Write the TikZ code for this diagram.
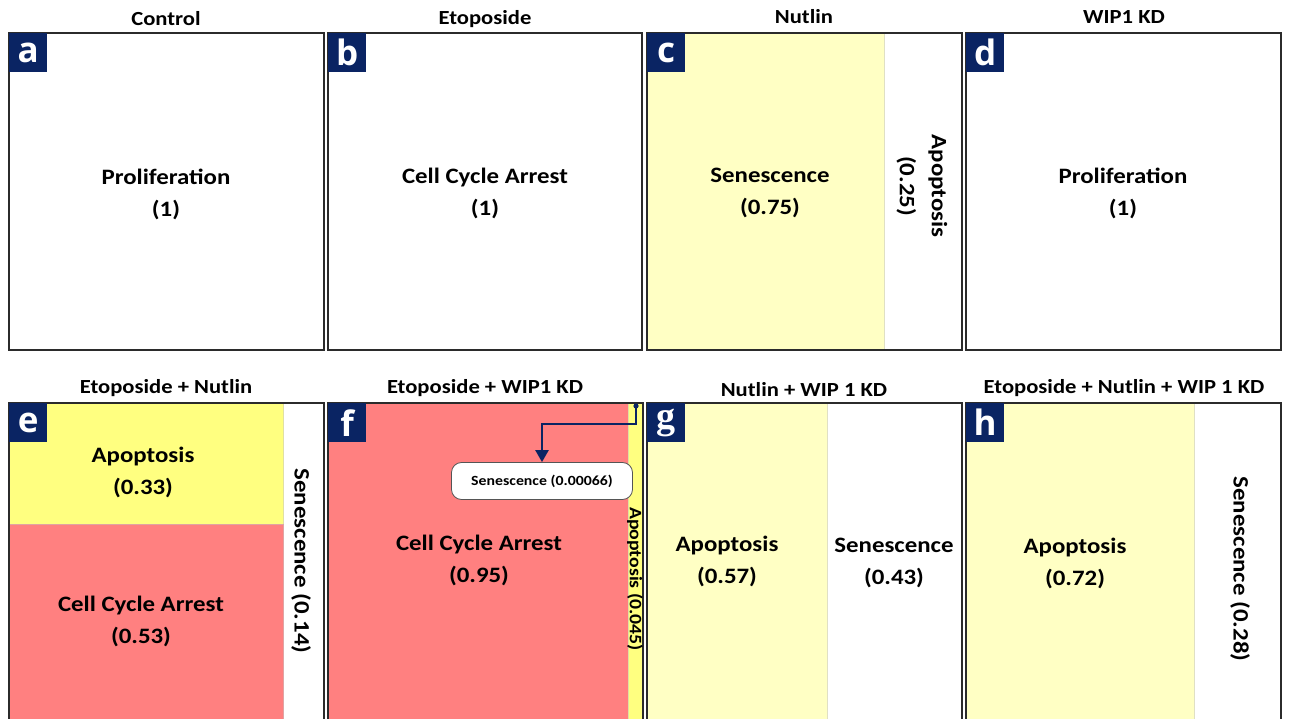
\documentclass[tikz,border=0pt]{standalone}
\usepackage{fontspec}
\setmainfont{Carlito}[FakeStretch=1.13]
\newfontfamily\tagfont{Open Sans}
\newfontfamily\tagserif{Liberation Serif}
\usetikzlibrary{arrows.meta}
\definecolor{navy}{HTML}{0A2463}
\definecolor{paleyel}{HTML}{FFFFC4}
\definecolor{yel}{HTML}{FFFF80}
\definecolor{salmon}{HTML}{FF8080}
\definecolor{edge}{HTML}{2B2B2B}

\begin{document}
\begin{tikzpicture}[x=1pt,y=-1pt,
  frame/.style={draw=edge, line width=1.6pt},
  area/.style={fill=#1, draw=#1!80!black!60, line width=0.5pt},
  tag/.style={fill=navy, text=white, font=\tagfont\bfseries\fontsize{35}{35}\selectfont,
              minimum width=38pt, minimum height=39pt, inner sep=0pt, anchor=north west},
  title/.style={font=\bfseries\fontsize{20}{24}\selectfont, inner sep=0pt},
  lbl/.style={font=\bfseries\fontsize{22}{32}\selectfont, align=center, inner sep=0pt},
  vlbl/.style={lbl, rotate=-90},
  callout/.style={draw=edge!80, fill=white, rounded corners=10pt, line width=0.8pt,
              minimum width=181pt, minimum height=37pt, inner sep=0pt,
              font=\bfseries\fontsize{14}{16}\selectfont},
  pointer/.style={draw=navy, line width=2.4pt, -{Triangle[length=12pt,width=13pt]}}
]
\clip (0,0) rectangle (1291,719);
\fill[white] (0,0) rectangle (1291,719);

% ---------- top row ----------
\node[title] (ta) at (166,19) {Control};
\node[title] (tb) at (485,19) {Etoposide};
\node[title] (tc) at (804,17) {Nutlin};
\node[title] (td) at (1124,17) {WIP1 KD};

% panel c fill
\path[area=paleyel] (647,33) rectangle (884,350);

\draw[frame] (9,33) rectangle (324,350);
\draw[frame] (328,33) rectangle (642,350);
\draw[frame] (647,33) rectangle (962,350);
\draw[frame] (966,33) rectangle (1281,350);

\node[tag] (la) at (9,33) {a};
\node[tag] (lb) at (328,33) {b};
\node[tag] (lc) at (647,33) {c};
\node[tag] (ld) at (966,33) {d};

\node[lbl] (pa) at (166,194) {Proliferation\\(1)};
\node[lbl] (pb) at (485,193) {Cell Cycle Arrest\\(1)};
\node[lbl] (pc) at (770,193) {Senescence\\(0.75)};
\node[vlbl] (pc2) at (922,186) {Apoptosis\\(0.25)};
\node[lbl] (pd) at (1123,193) {Proliferation\\(1)};

% ---------- bottom row ----------
\node[title] (te) at (166,388) {Etoposide + Nutlin};
\node[title] (tf) at (485,388) {Etoposide + WIP1 KD};
\node[title] (tg) at (804,390) {Nutlin + WIP 1 KD};
\node[title] (th) at (1124,388) {Etoposide + Nutlin + WIP 1 KD};

% panel e fills
\path[area=yel] (9,403) rectangle (283,524);
\path[area=salmon] (9,524) rectangle (283,730);
% panel f fills
\path[area=salmon] (328,403) rectangle (628,730);
\path[area=yel] (628,403) rectangle (643,730);
% panel g fill
\path[area=paleyel] (647,403) rectangle (827,730);
% panel h fill
\path[area=paleyel] (966,403) rectangle (1194,730);

\draw[frame] (9,403) rectangle (324,730);
\draw[frame] (328,403) rectangle (643,730);
\draw[frame] (647,403) rectangle (962,730);
\draw[frame] (966,403) rectangle (1281,730);

\node[tag] (le) at (9,403) {e};
\node[tag] (lf) at (328,403) {f};
\node[tag, font=\tagserif\bfseries\fontsize{38}{38}\selectfont] (lg) at (647,403) {g};
\node[tag] (lh) at (966,403) {h};

\node[lbl] (ea) at (143,472) {Apoptosis\\(0.33)};
\node[lbl] (ec) at (141,621) {Cell Cycle Arrest\\(0.53)};
\node[vlbl] (es) at (301,561) {Senescence (0.14)};

\node[lbl] (fc) at (479,560) {Cell Cycle Arrest\\(0.95)};
\node[vlbl, font=\bfseries\fontsize{17.5}{20}\selectfont] (fa) at (635,579) {Apoptosis (0.045)};
\node[callout] (fs) at (542,481) {Senescence (0.00066)};
\coordinate (fsrc) at (636,406);
\fill[navy] (fsrc) circle (2.6pt);
\draw[pointer] (fsrc) -- ++(0,18) -| (fs.north);

\node[lbl] (ga) at (727,561) {Apoptosis\\(0.57)};
\node[lbl] (gs) at (894,563) {Senescence\\(0.43)};

\node[lbl] (ha) at (1075,563) {Apoptosis\\(0.72)};
\node[vlbl] (hs) at (1240,569) {Senescence (0.28)};
\end{tikzpicture}
\end{document}
